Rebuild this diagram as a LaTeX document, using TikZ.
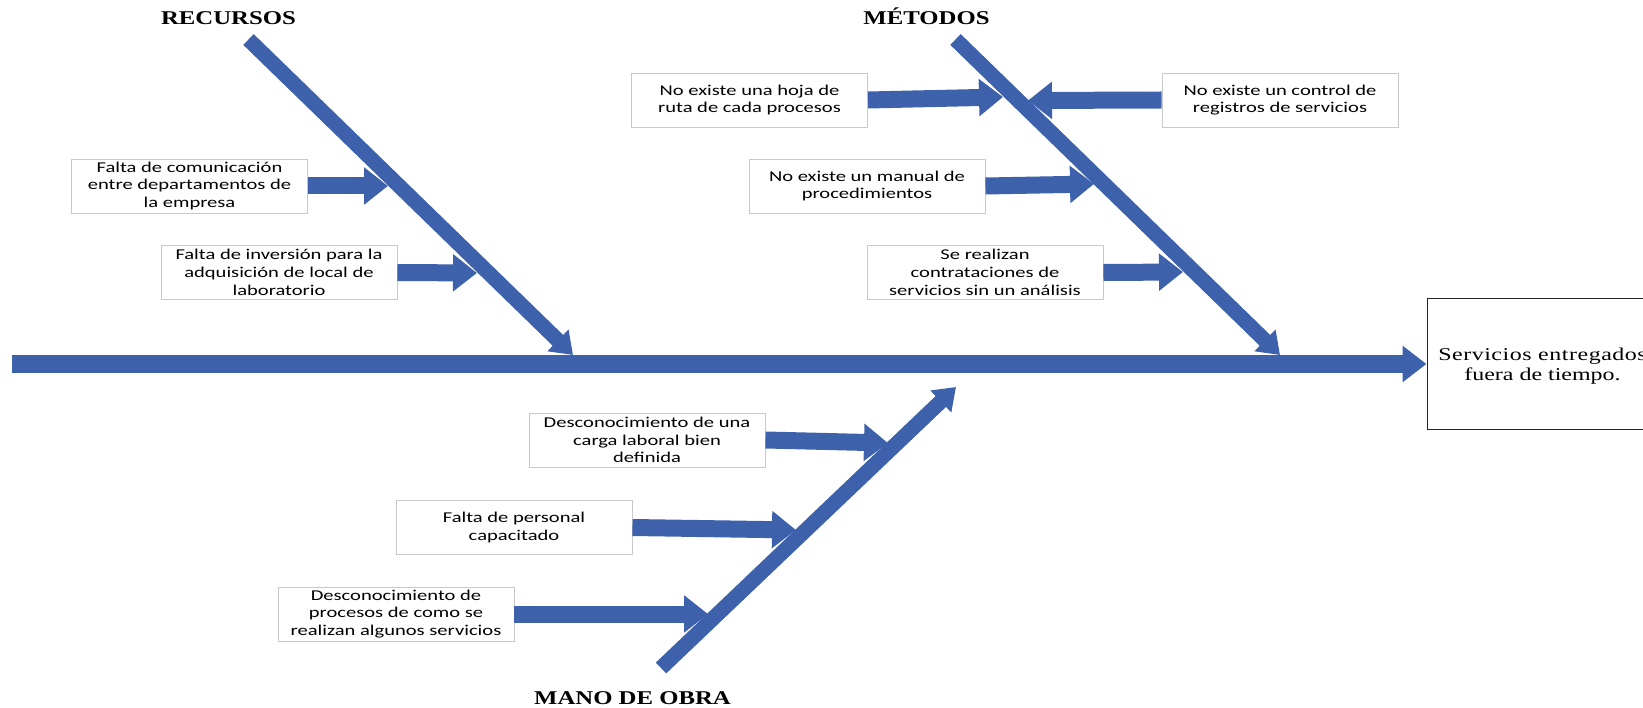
\documentclass[tikz,border=0pt]{standalone}
\usepackage{fontspec}
\usetikzlibrary{arrows.meta}
\newfontfamily\causefont[FakeStretch=1.37]{Carlito}
\newfontfamily\headfont[FakeStretch=1.27]{Liberation Serif}
\newfontfamily\effectfont[FakeStretch=1.33]{Liberation Serif}
\newfontfamily\effectwide[FakeStretch=1.33,LetterSpace=3]{Liberation Serif}
\definecolor{boneblue}{HTML}{3D62AB}
\definecolor{boxgray}{HTML}{C9C9C9}

\begin{document}
\begin{tikzpicture}[x=1pt,y=-1pt,
  causebox/.style={draw=boxgray, line width=0.9pt, fill=white,
    minimum width=236pt, minimum height=54pt, inner sep=0pt, align=center,
    font=\causefont\fontsize{15}{17.7}\selectfont},
  category/.style={anchor=base, inner sep=0pt,
    font=\headfont\bfseries\fontsize{19.5}{22}\selectfont},
  effectbox/.style={draw=black!85, line width=1pt, minimum width=230pt,
    minimum height=130pt, inner sep=0pt},
  effecttext/.style={inner sep=0pt, align=center,
    font=\effectfont\fontsize{18}{20.5}\selectfont},
  spine/.style={draw=boneblue, line width=18pt, -{Triangle[length=24pt,width=35pt]}},
  bone/.style={draw=boneblue, line width=15pt, -{Triangle[length=21pt,width=29pt]}},
  twig/.style={draw=boneblue, line width=17pt, -{Triangle[length=24pt,width=36pt]}},
]
\useasboundingbox (0,0) rectangle (1643,708);
\clip (0,0) rectangle (1643,708);

% category headings
\node[category] (recursos) at (228.5,25) {RECURSOS};
\node[category] (metodos)  at (926.5,25) {MÉTODOS};
\node[category] (mano)     at (632.5,704) {MANO DE OBRA};

% effect (head of the fish)
\node[effectbox] (effect) at (1542,364) {};
\node[effecttext] (effectlabel) at (1542.5,366) {{\effectwide Servicios entregados}\\fuera de tiempo.};

% cause boxes
\node[causebox] (r1) at (189.5,186)  {Falta de comunicación\\entre departamentos de\\la empresa};
\node[causebox] (r2) at (279,272.5)  {Falta de inversión para la\\adquisición de local de\\laboratorio};
\node[causebox] (m1) at (749.5,100)  {No existe una hoja de\\ruta de cada procesos};
\node[causebox] (m2) at (1280,100)   {No existe un control de\\registros de servicios};
\node[causebox] (m3) at (867,186)    {No existe un manual de\\procedimientos};
\node[causebox] (m4) at (985,272.5)  {Se realizan\\contrataciones de\\servicios sin un análisis};
\node[causebox] (o1) at (647,440)    {Desconocimiento de una\\carga laboral bien\\definida};
\node[causebox] (o2) at (514,527.5)  {Falta de personal\\capacitado};
\node[causebox] (o3) at (396,614)    {Desconocimiento de\\procesos de como se\\realizan algunos servicios};

% bone end points
\coordinate (spinestart) at (12,364);
\coordinate (rtop) at (248.5,39.5);
\coordinate (rtip) at (573,355);
\coordinate (mtop) at (955.5,39.5);
\coordinate (mtip) at (1280,355);
\coordinate (obot) at (661,668);
\coordinate (otip) at (956,387);

% twig tips on the bones
\coordinate (r1tip) at (388,186);
\coordinate (r2tip) at (477,273);
\coordinate (m1tip) at (1003,97);
\coordinate (m2tip) at (1028,100.5);
\coordinate (m3tip) at (1094,184);
\coordinate (m4tip) at (1183,272);
\coordinate (o1tip) at (888,443);
\coordinate (o2tip) at (796,530);
\coordinate (o3tip) at (708,614);

% spine and bones
\draw[spine] (spinestart) -- (effect.west);
\draw[bone] (rtop) -- (rtip);
\draw[bone] (mtop) -- (mtip);
\draw[bone] (obot) -- (otip);

% twigs
\draw[twig] (r1.east) -- (r1tip);
\draw[twig] (r2.east) -- (r2tip);
\draw[twig] (m1.east) -- (m1tip);
\draw[twig] (m2.west) -- (m2tip);
\draw[twig] (m3.east) -- (m3tip);
\draw[twig] (m4.east) -- (m4tip);
\draw[twig] (o1.east) -- (o1tip);
\draw[twig] (o2.east) -- (o2tip);
\draw[twig] (o3.east) -- (o3tip);
\end{tikzpicture}
\end{document}
